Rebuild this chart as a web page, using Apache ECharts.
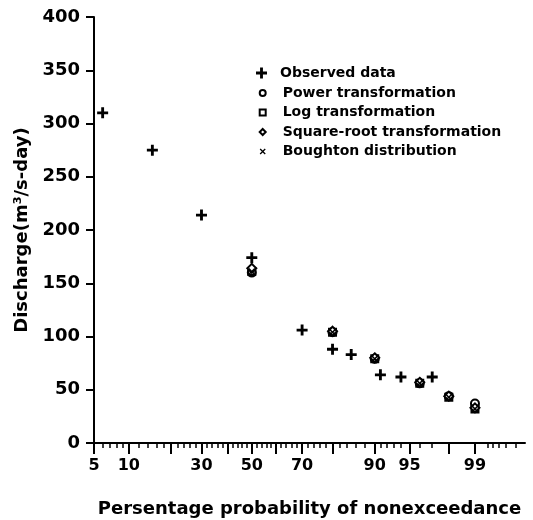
<!DOCTYPE html>
<html>
<head>
<meta charset="utf-8">
<script src="https://cdn.jsdelivr.net/npm/echarts@6/dist/echarts.min.js"></script>
<style>
  html, body { margin: 0; padding: 0; background: #fff; }
  #chart { width: 533px; height: 520px; }
</style>
</head>
<body>
<div id="chart"></div>
<script>
// percent probability of nonexceedance and discharge values
const obsP = [6, 15, 30, 50, 70, 80, 85, 91, 94, 97];
const obsQ = [310, 275, 214, 174, 106, 88, 83, 64, 62, 62];
const modelP = [50, 80, 90, 96, 98, 99];
const powerQ = [160, 104, 79, 56, 44, 37];
const logQ = [161, 104, 79, 56, 43, 32];
const sqrtQ = [164, 105, 80, 57, 44, 33];
const boughtonQ = [161, 104, 79, 56, 43, 32];

// axis ticks (percent)
const labelTicks = [5, 10, 30, 50, 70, 90, 95, 99];
const majorTicks = [5, 10, 20, 30, 40, 50, 60, 70, 80, 90, 95, 98, 99];
const minorTicks = [6, 7, 8, 9, 12, 14, 16, 18, 22, 24, 26, 28, 32, 34, 36, 38, 42, 44, 46, 48,
  52, 54, 56, 58, 62, 64, 66, 68, 72, 74, 76, 78, 82, 84, 86, 88, 91, 92, 93, 94, 96, 97,
  99.3, 99.4, 99.5, 99.6, 99.7];
const xMinP = 5;
const xMaxP = 99.78;

// inverse normal cdf (probability paper)
function probit(p) {
  const a = [-3.969683028665376e+01, 2.209460984245205e+02, -2.759285104469687e+02, 1.383577518672690e+02, -3.066479806614716e+01, 2.506628277459239e+00];
  const b = [-5.447609879822406e+01, 1.615858368580409e+02, -1.556989798598866e+02, 6.680131188771972e+01, -1.328068155288572e+01];
  const c = [-7.784894002430293e-03, -3.223964580411365e-01, -2.400758277161838e+00, -2.549732539343734e+00, 4.374664141464968e+00, 2.938163982698783e+00];
  const d = [7.784695709041462e-03, 3.224671290700398e-01, 2.445134137142996e+00, 3.754408661907416e+00];
  const pl = 0.02425;
  let q, r;
  if (p < pl) {
    q = Math.sqrt(-2 * Math.log(p));
    return (((((c[0] * q + c[1]) * q + c[2]) * q + c[3]) * q + c[4]) * q + c[5]) / ((((d[0] * q + d[1]) * q + d[2]) * q + d[3]) * q + 1);
  }
  if (p > 1 - pl) {
    q = Math.sqrt(-2 * Math.log(1 - p));
    return -(((((c[0] * q + c[1]) * q + c[2]) * q + c[3]) * q + c[4]) * q + c[5]) / ((((d[0] * q + d[1]) * q + d[2]) * q + d[3]) * q + 1);
  }
  q = p - 0.5;
  r = q * q;
  return (((((a[0] * r + a[1]) * r + a[2]) * r + a[3]) * r + a[4]) * r + a[5]) * q / (((((b[0] * r + b[1]) * r + b[2]) * r + b[3]) * r + b[4]) * r + 1);
}
const z = pct => probit(pct / 100);

const pairs = (ps, qs) => ps.map((p, i) => [z(p), qs[i]]);

const plusSym = 'path://M3.7,0H6.3V3.7H10V6.3H6.3V10H3.7V6.3H0V3.7H3.7Z';
const crossSym = 'path://M0,1.5L1.5,0L5,3.5L8.5,0L10,1.5L6.5,5L10,8.5L8.5,10L5,6.5L1.5,10L0,8.5L3.5,5Z';
const font = 'DejaVu Sans';

const chart = echarts.init(document.getElementById('chart'));
chart.setOption({
  backgroundColor: '#fff',
  animation: false,
  grid: { left: 94, right: 8, top: 17, bottom: 77, outerBoundsMode: 'none' },
  legend: [
    {
      data: ['Observed data'],
      left: 251, top: 61,
      itemWidth: 11, itemHeight: 11,
      textStyle: { fontFamily: font, fontSize: 14, fontWeight: 'bold', color: '#000', padding: [0, 0, 0, 8] }
    },
    {
      data: ['Power transformation', 'Log transformation', 'Square-root transformation', 'Boughton distribution'],
      orient: 'vertical',
      left: 253.7, top: 81,
      itemWidth: 6, itemHeight: 6, itemGap: 5.5,
      textStyle: { fontFamily: font, fontSize: 14, fontWeight: 'bold', color: '#000', padding: [0, 0, 0, 12] }
    }
  ],
  xAxis: [
    {
      type: 'value',
      min: z(xMinP), max: z(xMaxP),
      name: 'Persentage probability of nonexceedance',
      nameLocation: 'middle', nameGap: 57,
      nameTextStyle: { fontFamily: font, fontSize: 18, fontWeight: 'bold', color: '#000' },
      splitLine: { show: false },
      axisLine: { onZero: false, lineStyle: { color: '#000', width: 2 } },
      axisTick: { customValues: majorTicks.map(z), length: 11, lineStyle: { color: '#000', width: 2 } },
      axisLabel: {
        customValues: labelTicks.map(z), margin: 15,
        fontFamily: font, fontSize: 16, fontWeight: 'bold', color: '#000',
        formatter: v => {
          const i = labelTicks.findIndex(p => Math.abs(z(p) - v) < 1e-6);
          return i < 0 ? '' : String(labelTicks[i]);
        }
      }
    },
    {
      type: 'value', position: 'bottom', offset: 0,
      min: z(xMinP), max: z(xMaxP),
      splitLine: { show: false },
      axisLine: { show: false, onZero: false },
      axisTick: { customValues: minorTicks.map(z), length: 5, lineStyle: { color: '#000', width: 1.5 } },
      axisLabel: { show: false }
    }
  ],
  yAxis: {
    type: 'value', min: 0, max: 400, interval: 50,
    name: 'Discharge(m³/s-day)',
    nameLocation: 'middle', nameGap: 45, nameRotate: 90,
    nameTextStyle: { fontFamily: font, fontSize: 18, fontWeight: 'bold', color: '#000' },
    splitLine: { show: false },
    axisLine: { onZero: false, lineStyle: { color: '#000', width: 2 } },
    axisTick: { length: 8, lineStyle: { color: '#000', width: 2 } },
    axisLabel: { margin: 14, fontFamily: font, fontSize: 18, fontWeight: 'bold', color: '#000' }
  },
  series: [
    {
      name: 'Observed data', type: 'scatter', symbol: plusSym, symbolSize: 11,
      itemStyle: { color: '#000', opacity: 1 }, data: pairs(obsP, obsQ)
    },
    {
      name: 'Power transformation', type: 'scatter', symbol: 'emptyCircle', symbolSize: 8,
      itemStyle: { color: '#000', borderColor: '#000', borderWidth: 2, opacity: 1 }, data: pairs(modelP, powerQ)
    },
    {
      name: 'Log transformation', type: 'scatter', symbol: 'emptyRect', symbolSize: 7,
      itemStyle: { color: '#000', borderColor: '#000', borderWidth: 1.8, opacity: 1 }, data: pairs(modelP, logQ)
    },
    {
      name: 'Square-root transformation', type: 'scatter', symbol: 'emptyDiamond', symbolSize: 9,
      itemStyle: { color: '#000', borderColor: '#000', borderWidth: 2, opacity: 1 }, data: pairs(modelP, sqrtQ)
    },
    {
      name: 'Boughton distribution', type: 'scatter', symbol: crossSym, symbolSize: 7,
      itemStyle: { color: '#000', opacity: 1 }, data: pairs(modelP, boughtonQ)
    }
  ]
});
</script>
</body>
</html>
